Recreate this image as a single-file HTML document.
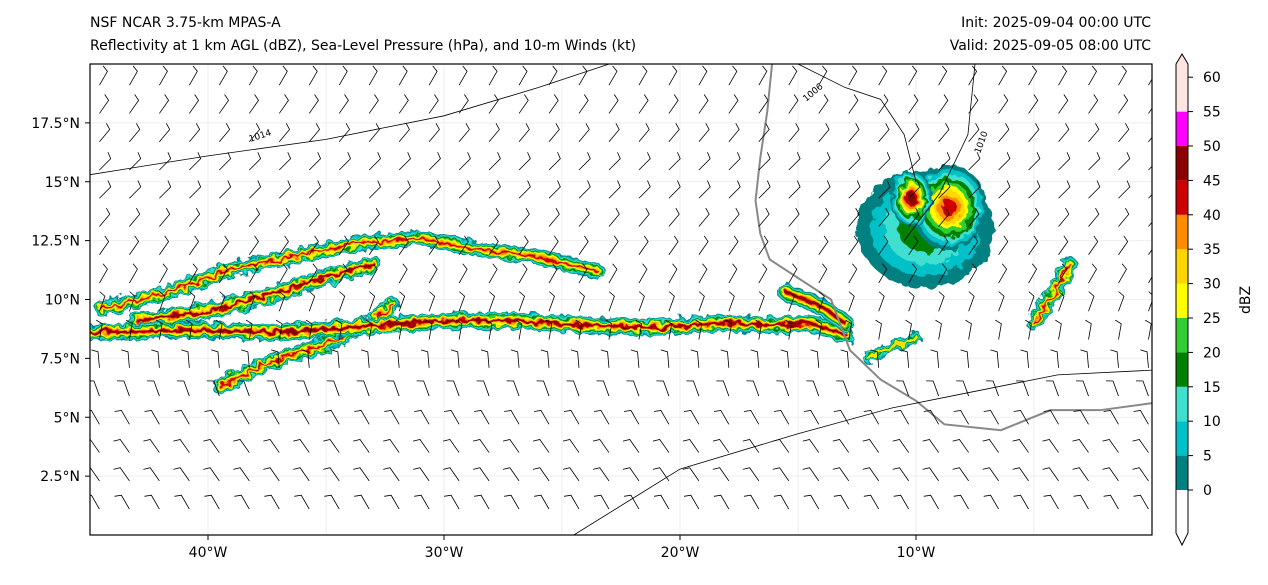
<!DOCTYPE html>
<html><head><meta charset="utf-8"><style>
body{margin:0;background:#fff;width:1268px;height:580px;overflow:hidden;font-family:"Liberation Sans","DejaVu Sans",sans-serif}
svg text{font-family:"DejaVu Sans","Liberation Sans",sans-serif}
</style></head><body>
<svg id="chart" width="1268" height="580" xmlns="http://www.w3.org/2000/svg">
<text x="90" y="27" font-size="14">NSF NCAR 3.75-km MPAS-A</text>
<text x="90" y="50" font-size="14">Reflectivity at 1 km AGL (dBZ), Sea-Level Pressure (hPa), and 10-m Winds (kt)</text>
<text x="1151" y="27" font-size="14" text-anchor="end">Init: 2025-09-04 00:00 UTC</text>
<text x="1151" y="50" font-size="14" text-anchor="end">Valid: 2025-09-05 08:00 UTC</text>
<defs><clipPath id="mapclip"><rect x="90" y="64" width="1062" height="471"/></clipPath>
<filter id="rough"><feTurbulence type="fractalNoise" baseFrequency="0.12" numOctaves="2" seed="3"/><feDisplacementMap in="SourceGraphic" scale="10"/></filter></defs>
<g id="map" clip-path="url(#mapclip)"></g>
<rect x="90" y="64" width="1062" height="471" fill="none" stroke="#000" stroke-width="1.2"/>
<g id="axes"></g>
<g id="cbar"></g>
</svg>
<script>
const lonTicks=[-40,-30,-20,-10];
const lonLabels=["40°W","30°W","20°W","10°W"];
const latTicks=[2.5,5,7.5,10,12.5,15,17.5];
const latLabels=["2.5°N","5°N","7.5°N","10°N","12.5°N","15°N","17.5°N"];
const levels=[0,5,10,15,20,25,30,35,40,45,50,55,60];
const colors=["#008080","#00c0c8","#40e0d0","#008000","#32cd32","#ffff00","#ffd700","#ff8c00","#cc0000","#8b0000","#ff00ff","#ffe4e1"];
// storm bands: lon/lat polylines and peak dBZ
const bandLons=[[-44.5,-42,-39,-36,-33.5,-31,-29,-26,-23.5],[-43,-40,-37,-34.5,-33],[-39.5,-37.5,-35,-33,-32.2],[-45,-41,-37,-34,-30,-27,-24,-21,-18.5,-16,-14.5,-13],[-15.5,-14,-13],[-12,-11,-10],[-5,-4,-3.5]];
const bandLats=[[9.6,10.2,11.3,11.9,12.4,12.6,12.2,11.8,11.2],[9.1,9.5,10.3,11.1,11.5],[6.3,7.3,8.1,9.1,9.8],[8.6,8.7,8.6,8.8,9.1,9.1,8.9,8.8,9.0,8.9,9.0,8.5],[10.3,9.7,9.0],[7.5,8.0,8.4],[9.0,10.5,11.5]];
const bandPeak=[45,50,45,50,50,35,45];
const blobLon=[-9.6,-8.6,-10.2];
const blobLat=[13.0,13.9,14.3];
const blobRx=[2.9,1.6,0.9];
const blobRy=[2.5,1.8,1.2];
const blobPeak=[20,45,50];
// wind barb rows: direction (deg, staff orientation) per lat row
const barbLats=[19.1,17.9,16.7,15.5,14.3,13.1,11.9,10.7,9.5,8.3,7.1,5.9,4.7,3.5,2.3,1.1];
const barbDirs=[60,55,50,45,45,50,55,60,70,80,95,110,120,125,125,120];
// coastline and isobars (lon/lat)
const coastLon=[-16.1,-16.3,-16.6,-16.8,-16.6,-16.2,-13.6,-12.8,-11.5,-10.0,-8.8,-6.4,-4.3,-2.2,0];
const coastLat=[20,18,16,14.2,12.8,11.7,10.0,7.85,6.6,5.7,4.7,4.45,5.3,5.3,5.6];
const iso1Lon=[-45,-40,-35,-30,-26,-23];const iso1Lat=[15.3,16.1,16.8,17.8,19.0,20];
const iso2Lon=[-24.5,-20,-15,-11,-8,-4,0];const iso2Lat=[0,2.8,4.3,5.4,6,6.8,7];
const iso3Lon=[-7.5,-7.8,-9,-10.5];const iso3Lat=[20,17,14.5,12.5];
const iso4Lon=[-15,-13,-11.5,-10.5,-10];const iso4Lat=[20,19,18.5,17,15];
const NS="http://www.w3.org/2000/svg";
const X=lon=>90+(lon+45)*23.6, Y=lat=>535-lat*23.55;
function mk(t,a,p){const e=document.createElementNS(NS,t);for(const k in a)e.setAttribute(k,a[k]);p.appendChild(e);return e;}
const map=document.getElementById('map'),axes=document.getElementById('axes'),cb=document.getElementById('cbar');
for(let lo=-40;lo<=0;lo+=5){const g=mk('line',{x1:X(lo),x2:X(lo),y1:64,y2:535,stroke:'#eee','stroke-width':1},map);}
for(let la=2.5;la<20;la+=2.5){const g=mk('line',{x1:90,x2:1152,y1:Y(la),y2:Y(la),stroke:'#eee','stroke-width':1},map);}
function pl(lons,lats){return lons.map((v,i)=>X(v)+','+Y(lats[i])).join(' ');}
const sg=mk('g',{filter:'url(#rough)'},map);
bandLons.forEach((lons,b)=>{
  const n=levels.indexOf(bandPeak[b]);
  for(let i=0;i<n;i++){
    const w=Math.max(1.5,(n-i)*1.7);
    const e=mk('polyline',{points:pl(lons,bandLats[b]),fill:'none',stroke:colors[i],'stroke-width':w,'stroke-linecap':'round','stroke-linejoin':'round'},sg);
    
    
  }
});
blobLon.forEach((lo,b)=>{
  const n=levels.indexOf(blobPeak[b]);
  for(let i=0;i<n;i++){
    const f=1-i/(n+1);
    const e=mk('ellipse',{cx:X(lo),cy:Y(blobLat[b]),rx:blobRx[b]*23.6*f,ry:blobRy[b]*23.6*f,fill:colors[i]},sg);
    
    
  }
});
let c=mk('polyline',{points:pl(coastLon,coastLat),fill:'none',stroke:'#888','stroke-width':2},map);

[[iso1Lon,iso1Lat],[iso2Lon,iso2Lat],[iso3Lon,iso3Lat],[iso4Lon,iso4Lat]].forEach(p=>{
  const e=mk('polyline',{points:pl(p[0],p[1]),fill:'none',stroke:'#000','stroke-width':0.8},map);
  });
let t=mk('text',{x:250,y:142,'font-size':9,transform:'rotate(-18 250 142)'},map);t.textContent='1014';

t=mk('text',{x:806,y:102,'font-size':9,transform:'rotate(-40 806 102)'},map);t.textContent='1006';

t=mk('text',{x:980,y:154,'font-size':9,transform:'rotate(-70 980 154)'},map);t.textContent='1010';

barbLats.forEach((la,r)=>{
  for(let lo=-44.6;lo<0;lo+=1.27){
    const a=barbDirs[r]*Math.PI/180,x=X(lo),y=Y(la);
    const x2=x+Math.cos(a)*16,y2=y-Math.sin(a)*16;
    const e=mk('path',{d:`M${x},${y}L${x2},${y2}l${Math.cos(a+1.2)*7},${-Math.sin(a+1.2)*7}`,fill:'none',stroke:'#000','stroke-width':0.8},map);
    
    
  }
});
lonTicks.forEach((lo,i)=>{mk('line',{x1:X(lo),x2:X(lo),y1:535,y2:540,stroke:'#000'},axes);
  const e=mk('text',{x:X(lo),y:557,'font-size':14,'text-anchor':'middle'},axes);e.textContent=lonLabels[i];
  });
latTicks.forEach((la,i)=>{mk('line',{x1:85,x2:90,y1:Y(la),y2:Y(la),stroke:'#000'},axes);
  const e=mk('text',{x:80,y:Y(la)+5,'font-size':14,'text-anchor':'end'},axes);e.textContent=latLabels[i];
  });
const CY=v=>490-v*6.88;
mk('path',{d:'M1176,490L1188,490L1188,533L1182,545L1176,533Z',fill:'#fff',stroke:'none'},cb);
colors.forEach((col,i)=>{const top=i==11?64:CY(levels[i+1]);
  const e=mk('rect',{x:1176,y:top,width:12,height:CY(levels[i])-top,fill:col},cb);
  });
mk('path',{d:'M1176,64L1182,54L1188,64Z',fill:'#ffe4e1'},cb);
mk('path',{d:'M1176,64L1182,54L1188,64L1188,533L1182,545L1176,533Z',fill:'none',stroke:'#000','stroke-width':1},cb);
levels.forEach(v=>{mk('line',{x1:1188,x2:1193,y1:CY(v),y2:CY(v),stroke:'#000'},cb);
  const e=mk('text',{x:1203,y:CY(v)+5,'font-size':14},cb);e.textContent=v;
  });
t=mk('text',{x:1250,y:300,'font-size':14,'text-anchor':'middle',transform:'rotate(-90 1250 300)'},cb);t.textContent='dBZ';

</script>
</body></html>
